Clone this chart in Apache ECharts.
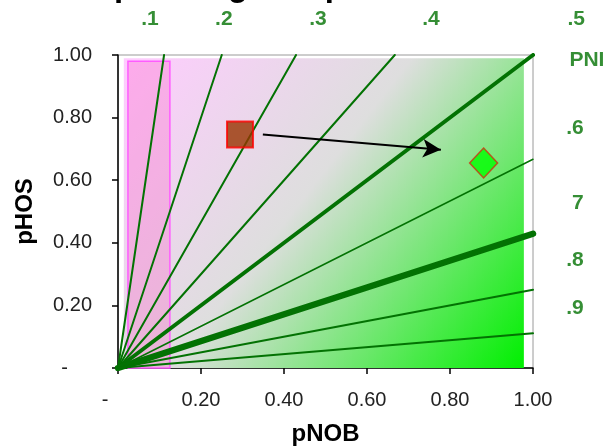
<!DOCTYPE html>
<html><head><meta charset="utf-8">
<script src="https://cdn.jsdelivr.net/npm/echarts@6/dist/echarts.min.js"></script>
<style>html,body{margin:0;padding:0;background:#fff}#c{width:609px;height:448px}</style>
</head><body><div id="c"></div>
<script>
// ---- data ----
const titleText = 'Spawning composition';
const xTickValues = [0, 0.2, 0.4, 0.6, 0.8, 1.0];
const yTickValues = [0, 0.2, 0.4, 0.6, 0.8, 1.0];
const pniValues = [0.1, 0.2, 0.3, 0.4, 0.5, 0.6, 0.7, 0.8, 0.9];
const lineEndX = [0.111, 0.25, 0.429, 0.667, 1, 1, 1, 1, 1];
const lineEndY = [1, 1, 1, 1, 1, 0.667, 0.429, 0.25, 0.111];
const pniLabels = ['.1', '.2', '.3', '.4', '.5', 'PNI', '.6', '7', '.8', '.9'];
const pniLabelX = [0.077, 0.255, 0.482, 0.754, 1.104, 1.13, 1.101, 1.108, 1.101, 1.101];
const pniLabelY = [1.115, 1.115, 1.115, 1.115, 1.115, 0.984, 0.767, 0.527, 0.345, 0.192];
const currentPoint = [0.294, 0.746];
const targetPoint = [0.881, 0.655];
const arrowStart = [0.349, 0.746];
const arrowEnd = [0.778, 0.697];
const shadeX = [0.014, 0.978];
const shadeY = [0, 0.99];
const boxX = [0.024, 0.125];
const boxY = [-0.006, 0.98];

// ---- styles ----
const GREEN = '#037203';
const lineWidths = [2, 2, 2, 2, 4, 1.5, 6.5, 2, 2];
const FONT = '"Liberation Sans", Arial, sans-serif';

const chart = echarts.init(document.getElementById('c'), null, {renderer: 'canvas'});

const lineSeries = pniValues.map((p, i) => ({
  type: 'line',
  name: 'PNI ' + p,
  data: [[0, 0], [lineEndX[i], lineEndY[i]]],
  showSymbol: false,
  symbol: 'none',
  silent: true,
  z: 3,
  lineStyle: {color: GREEN, width: lineWidths[i], cap: 'round'}
}));

function tickFmt(v) {
  if (Math.abs(v) < 1e-9) return '{z|-}';
  return v.toFixed(2);
}

const option = {
  animation: false,
  backgroundColor: '#fff',
  grid: {left: 118, right: 76, top: 55, bottom: 80, outerBoundsMode: 'none', containLabel: false,
    show: true, borderColor: '#9a9a9a', borderWidth: 1, backgroundColor: 'transparent'},
  graphic: [{
    type: 'text', left: 92, top: -30,
    style: {text: titleText, font: 'bold 33px ' + FONT, fill: '#000'}
  }],
  xAxis: {
    type: 'value', min: 0, max: 1, interval: 0.2,
    name: 'pNOB', nameLocation: 'middle', nameGap: 54,
    nameTextStyle: {fontFamily: FONT, fontWeight: 'bold', fontSize: 24, color: '#000'},
    axisLine: {show: true, onZero: false, lineStyle: {color: '#000', width: 1.5}},
    axisTick: {show: true, inside: false, length: 6, lineStyle: {color: '#000', width: 1.5}},
    axisLabel: {margin: 22, fontFamily: FONT, fontSize: 20, color: '#222', formatter: tickFmt,
      rich: {z: {fontFamily: FONT, fontSize: 20, color: '#222', padding: [0, 26, 0, 0]}}},
    splitLine: {show: false}
  },
  yAxis: {
    type: 'value', min: 0, max: 1, interval: 0.2,
    name: 'pHOS', nameLocation: 'middle', nameGap: 81, nameRotate: 90,
    nameTextStyle: {fontFamily: FONT, fontWeight: 'bold', fontSize: 24, color: '#000'},
    axisLine: {show: true, onZero: false, lineStyle: {color: '#000', width: 1.5}},
    axisTick: {show: true, inside: false, length: 6, lineStyle: {color: '#000', width: 1.5}},
    axisLabel: {margin: 26, fontFamily: FONT, fontSize: 20, color: '#222', formatter: tickFmt,
      rich: {z: {fontFamily: FONT, fontSize: 20, color: '#222', padding: [0, 24, 0, 0]}}},
    splitLine: {show: false}
  },
  series: [
    {
      type: 'line', name: 'shade', data: [], silent: true, z: 1,
      markArea: {
        silent: true,
        itemStyle: {
          color: {type: 'linear', x: 0, y: 0, x2: 1, y2: 1, colorStops: [
            {offset: 0, color: '#ffccff'},
            {offset: 0.45, color: '#dedede'},
            {offset: 1, color: '#00f000'}
          ]}
        },
        data: [[{coord: [shadeX[0], shadeY[1]]}, {coord: [shadeX[1], shadeY[0]]}]]
      }
    },
    {
      type: 'line', name: 'box', data: [], silent: true, z: 2,
      markArea: {
        silent: true,
        itemStyle: {color: 'rgba(250,110,200,0.35)', borderColor: '#ff5cff', borderWidth: 1.5},
        data: [[{coord: [boxX[0], boxY[1]]}, {coord: [boxX[1], boxY[0]]}]]
      }
    },
    ...lineSeries,
    {
      type: 'line', name: 'arrow', data: [], silent: true, z: 5,
      markLine: {
        silent: true, symbol: ['none', 'arrow'], symbolSize: [14, 18],
        label: {show: false},
        lineStyle: {color: '#000', width: 2, type: 'solid'},
        data: [[{coord: arrowStart}, {coord: arrowEnd}]]
      }
    },
    {
      type: 'scatter', name: 'current', z: 6, silent: true,
      symbol: 'rect', symbolSize: 26,
      itemStyle: {color: '#993300', borderColor: '#ff0000', borderWidth: 2},
      data: [currentPoint]
    },
    {
      type: 'scatter', name: 'target', z: 6, silent: true,
      symbol: 'diamond', symbolSize: [28, 30],
      itemStyle: {color: '#00ff00', borderColor: '#d03010', borderWidth: 1.5},
      data: [targetPoint]
    },
    {
      type: 'scatter', name: 'labels', z: 7, silent: true, clip: false,
      symbolSize: 0,
      data: pniLabels.map((t, i) => ({value: [pniLabelX[i], pniLabelY[i]], name: t})),
      label: {show: true, position: 'inside', formatter: '{b}', fontFamily: FONT, fontWeight: 'bold', fontSize: 21, color: GREEN}
    }
  ]
};
chart.setOption(option);
</script>
</body></html>
